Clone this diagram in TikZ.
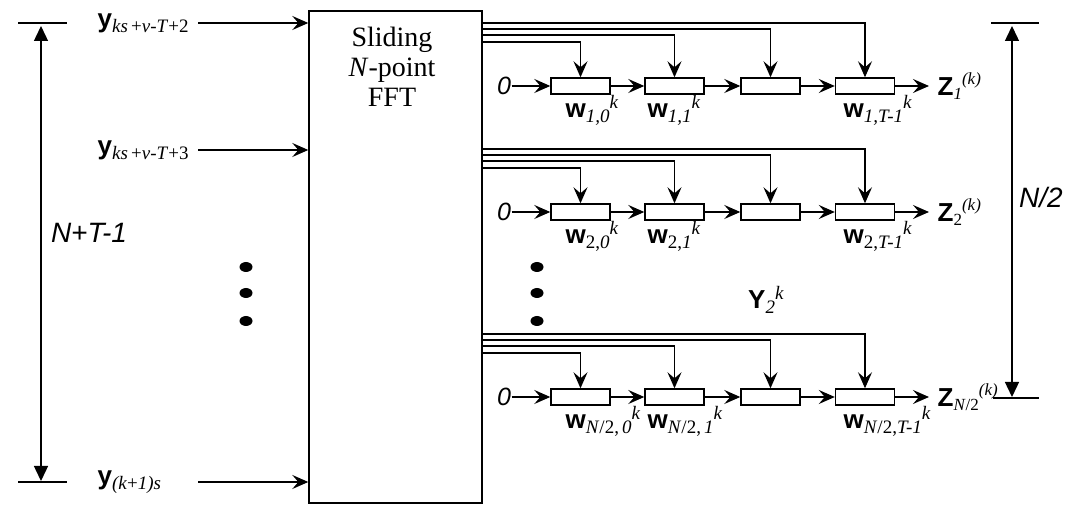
\documentclass[tikz,border=0pt]{standalone}
\usepackage{fontspec}
\setmainfont{Liberation Serif}
\newfontfamily\arialf{Liberation Sans}
\usetikzlibrary{arrows.meta}
\newcommand{\Bv}[1]{{\arialf\bfseries\fontsize{13}{13}\selectfont #1}}
\newcommand{\Sbx}[1]{\raisebox{-2.5pt}{\fontsize{9.5}{9.5}\selectfont #1}}
\newcommand{\Spx}[1]{\raisebox{4.5pt}{\fontsize{9.5}{9.5}\selectfont #1}}
\newcommand{\Zl}[1]{\Bv{Z}\raisebox{-2pt}{\fontsize{8.5}{8.5}\selectfont #1}\raisebox{5.5pt}{\fontsize{8.5}{8.5}\selectfont\textit{(k)}}}
\newcommand{\Wl}[1]{\Bv{w}\Sbx{#1}\Spx{\textit{k}}}
\newcommand{\mkrow}[6]{%
  \node[cell] (b#1a) at (580.5,#2) {};
  \node[cell] (b#1b) at (674.5,#2) {};
  \node[cell] (b#1c) at (770.5,#2) {};
  \node[cell] (b#1d) at (865,#2) {};
  \node[zero] (z#1) at (504,#2) {0};
  \node[anchor=west,inner sep=0] (o#1) at (937,#2) {\Zl{#3}};
  \node[anchor=west,inner sep=0] (w#1a) at (565,#2+24) {\Wl{#4}};
  \node[anchor=west,inner sep=0] (w#1b) at (647,#2+24) {\Wl{#5}};
  \node[anchor=west,inner sep=0] (w#1d) at (843,#2+24) {\Wl{#6}};
  \draw[sig] (z#1.east) -- (b#1a.west);
  \draw[sig] (b#1a.east) -- (b#1b.west);
  \draw[sig] (b#1b.east) -- (b#1c.west);
  \draw[sig] (b#1c.east) -- (b#1d.west);
  \draw[sig,shorten >=4pt] (b#1d.east) -- (o#1.west);
  \coordinate (t#1a) at (482,#2-44);
  \coordinate (t#1b) at (482,#2-51);
  \coordinate (t#1c) at (482,#2-57);
  \coordinate (t#1d) at (482,#2-63);
  \draw[sig] (t#1a) -| (b#1a.north);
  \draw[sig] (t#1b) -| (b#1b.north);
  \draw[sig] (t#1c) -| (b#1c.north);
  \draw[sig] (t#1d) -| (b#1d.north);
}
\begin{document}
\begin{tikzpicture}[x=0.5pt,y=-0.5pt,
  line width=0.7pt,
  sig/.style={-{Stealth[length=8pt,width=7pt,inset=3pt]},line width=0.7pt},
  dim/.style={{Triangle[length=7.5pt,width=7pt]}-{Triangle[length=7.5pt,width=7pt]},line width=0.7pt},
  cell/.style={draw,rectangle,minimum width=29.5pt,minimum height=8pt,inner sep=0},
  zero/.style={inner sep=0,font=\arialf\itshape\fontsize{12.5}{12.5}\selectfont},
  inlab/.style={anchor=west,inner sep=0}]
\useasboundingbox (0,0) rectangle (1073,507);

% FFT block
\node[draw,minimum width=86.5pt,minimum height=246pt,inner sep=0] (fft) at (395.5,257) {};
\node[align=center,font=\fontsize{14}{15}\selectfont] (fftt) at (392,67) {Sliding\\\textit{N}-point\\FFT};

% inputs
\node[inlab] (in1) at (97,23) {\Bv{y}\Sbx{\textit{ks}\,+\textit{ν}-\textit{T}+2}};
\node[inlab] (in2) at (97,150) {\Bv{y}\Sbx{\textit{ks}\,+\textit{ν}-\textit{T}+3}};
\node[inlab] (in3) at (97,482) {\Bv{y}\Sbx{\textit{(k}+\textit{1)s}}};
\coordinate (a1) at (198,23);
\coordinate (a2) at (198,150);
\coordinate (a3) at (198,482);
\draw[sig] (a1) -- (a1 -| fft.west);
\draw[sig] (a2) -- (a2 -| fft.west);
\draw[sig] (a3) -- (a3 -| fft.west);

% left dots
\fill (246,267) ellipse [x radius=6.5,y radius=5];
\fill (246,293) ellipse [x radius=6.5,y radius=5];
\fill (246,321) ellipse [x radius=6.5,y radius=5];

% rows
\mkrow{1}{86}{\textit{1}}{\textit{1,0}}{\textit{1,1}}{\textit{1,T-1}}
\mkrow{2}{212}{2}{2,\textit{0}}{2,\textit{1}}{2,\textit{T-1}}
\mkrow{3}{397}{\textit{N}/2}{\textit{N}/2,\,\textit{0}}{\textit{N}/2,\,\textit{1}}{\textit{N}/2,\textit{T-1}}

% middle dots
\fill (537,267) ellipse [x radius=6.5,y radius=5];
\fill (537,293) ellipse [x radius=6.5,y radius=5];
\fill (537,321) ellipse [x radius=6.5,y radius=5];

\node[inner sep=0] (Y2) at (766,300) {\Bv{Y}\Sbx{\textit{2}}\Spx{\textit{k}}};

% left dimension
\coordinate (L1) at (18,23);
\coordinate (L2) at (67,23);
\coordinate (L3) at (18,482);
\coordinate (L4) at (67,482);
\coordinate (La) at (41,26);
\coordinate (Lb) at (41,481);
\draw (L1) -- (L2);
\draw (L3) -- (L4);
\draw[dim] (La) -- (Lb);
\node[inner sep=0,font=\arialf\itshape\fontsize{14}{14}\selectfont] (nt) at (89,233) {N+T-1};

% right dimension
\coordinate (R1) at (991,23);
\coordinate (R2) at (1039,23);
\coordinate (R3) at (993,398);
\coordinate (R4) at (1039,398);
\coordinate (Ra) at (1012,26);
\coordinate (Rb) at (1012,397);
\draw (R1) -- (R2);
\draw (R3) -- (R4);
\draw[dim] (Ra) -- (Rb);
\node[inner sep=0,font=\arialf\itshape\fontsize{14}{14}\selectfont] (n2) at (1041,197) {N/2};
\end{tikzpicture}
\end{document}
